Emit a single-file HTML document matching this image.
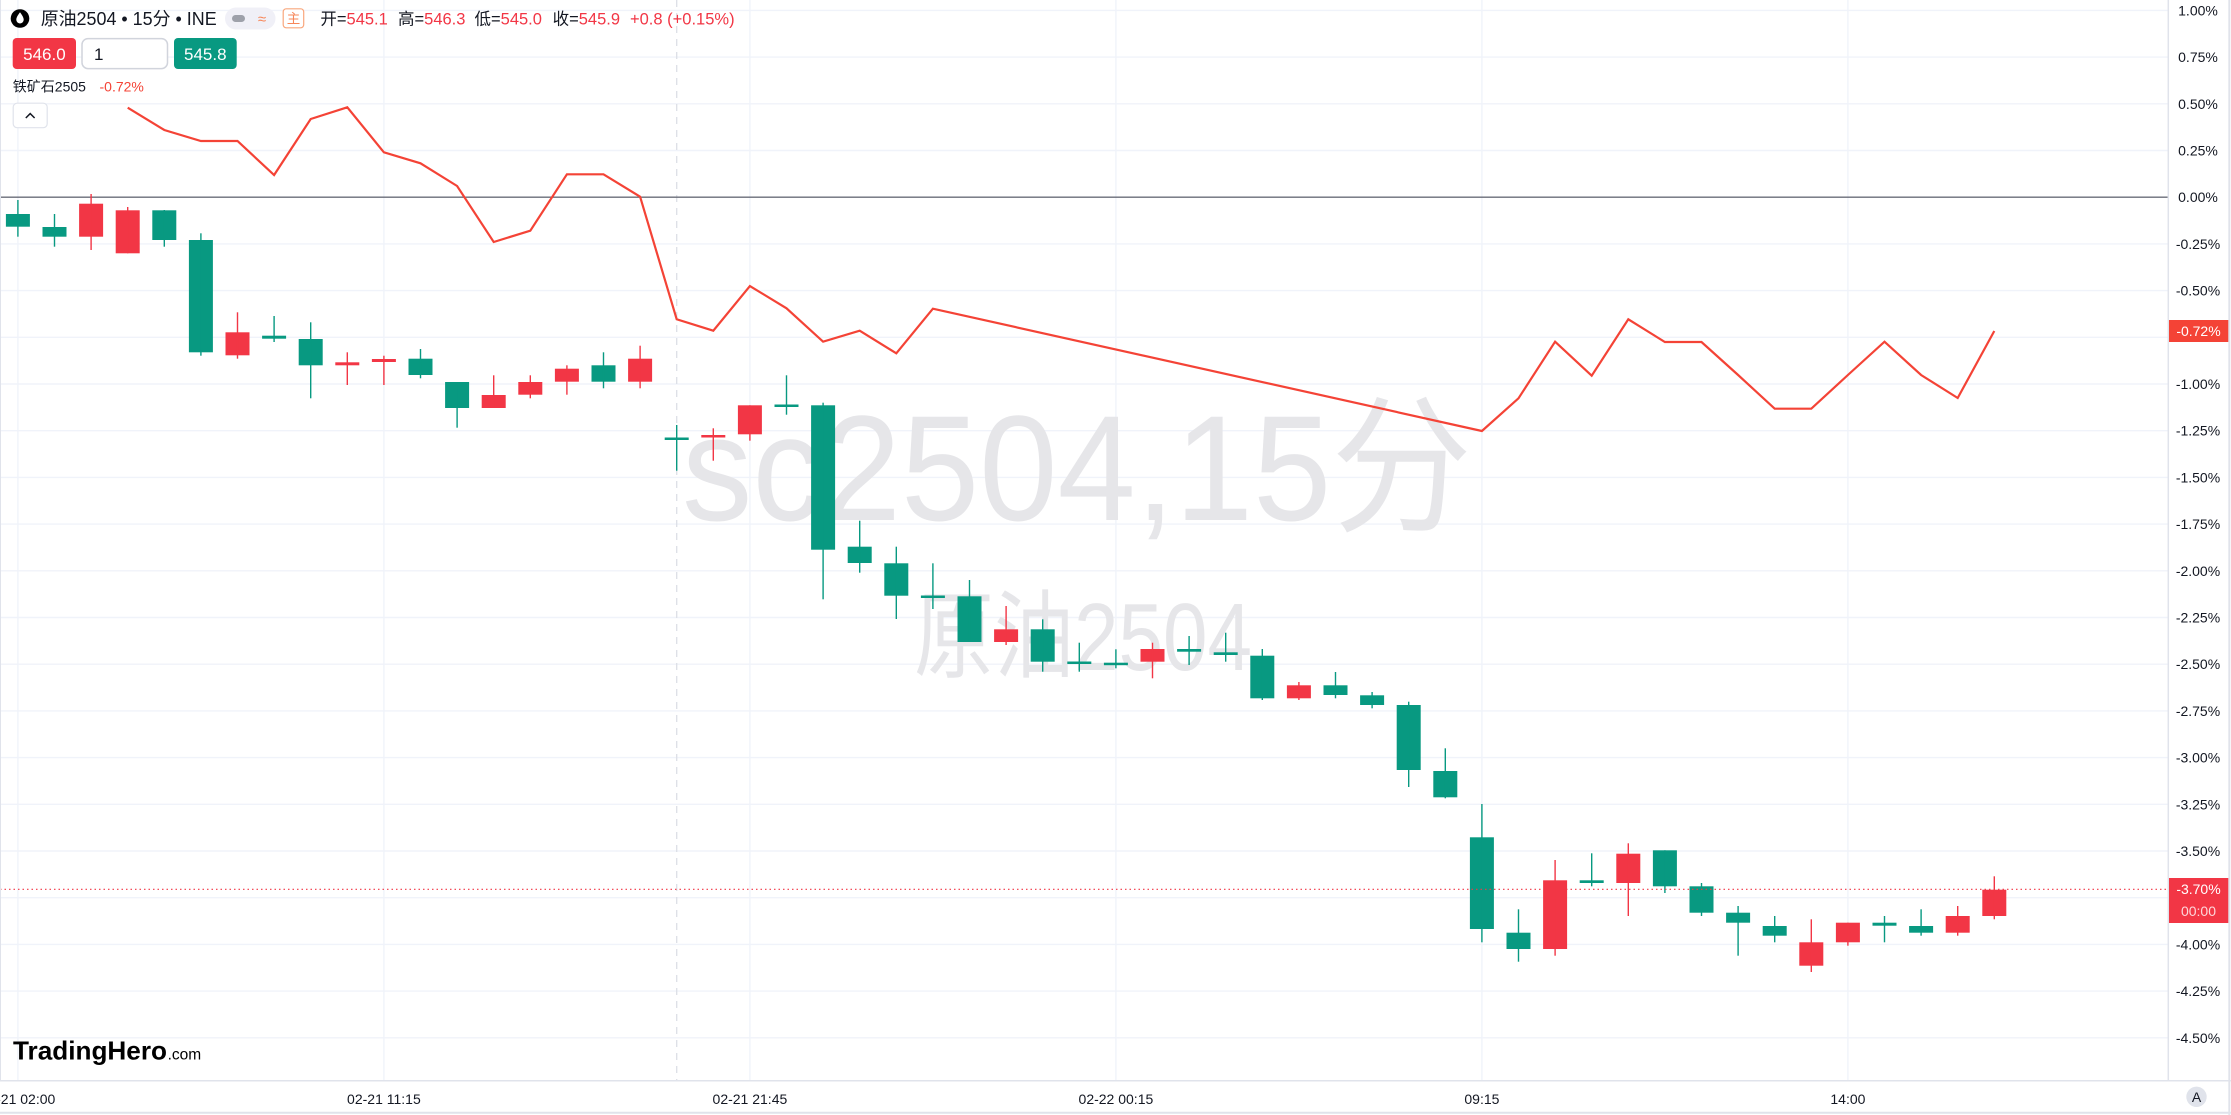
<!DOCTYPE html>
<html>
<head>
<meta charset="utf-8">
<style>
  html,body{margin:0;padding:0;background:#ffffff;}
  body{width:2231px;height:1115px;overflow:hidden;}
  svg{display:block;}
  text{font-family:"Liberation Sans","Noto Sans CJK SC",sans-serif;}
</style>
</head>
<body>
<svg width="2231" height="1115" viewBox="0 0 2231 1115" xmlns="http://www.w3.org/2000/svg">
  <defs>
    <clipPath id="pane"><rect x="0" y="0" width="2168" height="1080"/></clipPath>
  </defs>
  <rect x="0" y="0" width="2231" height="1115" fill="#ffffff"/>

  <g clip-path="url(#pane)">
    <!-- horizontal grid -->
    <g stroke="#f0f3fa" stroke-width="1.4">
      <line x1="0" x2="2168" y1="10.4" y2="10.4"/>
      <line x1="0" x2="2168" y1="57.1" y2="57.1"/>
      <line x1="0" x2="2168" y1="103.8" y2="103.8"/>
      <line x1="0" x2="2168" y1="150.5" y2="150.5"/>
      <line x1="0" x2="2168" y1="243.9" y2="243.9"/>
      <line x1="0" x2="2168" y1="290.6" y2="290.6"/>
      <line x1="0" x2="2168" y1="337.3" y2="337.3"/>
      <line x1="0" x2="2168" y1="384" y2="384"/>
      <line x1="0" x2="2168" y1="430.7" y2="430.7"/>
      <line x1="0" x2="2168" y1="477.4" y2="477.4"/>
      <line x1="0" x2="2168" y1="524.1" y2="524.1"/>
      <line x1="0" x2="2168" y1="570.8" y2="570.8"/>
      <line x1="0" x2="2168" y1="617.5" y2="617.5"/>
      <line x1="0" x2="2168" y1="664.2" y2="664.2"/>
      <line x1="0" x2="2168" y1="710.9" y2="710.9"/>
      <line x1="0" x2="2168" y1="757.6" y2="757.6"/>
      <line x1="0" x2="2168" y1="804.3" y2="804.3"/>
      <line x1="0" x2="2168" y1="851" y2="851"/>
      <line x1="0" x2="2168" y1="897.7" y2="897.7"/>
      <line x1="0" x2="2168" y1="944.4" y2="944.4"/>
      <line x1="0" x2="2168" y1="991.1" y2="991.1"/>
      <line x1="0" x2="2168" y1="1037.8" y2="1037.8"/>
    </g>
    <!-- vertical grid -->
    <g stroke="#f0f3fa" stroke-width="1.4">
      <line x1="17.9" x2="17.9" y1="0" y2="1080"/>
      <line x1="383.9" x2="383.9" y1="0" y2="1080"/>
      <line x1="749.9" x2="749.9" y1="0" y2="1080"/>
      <line x1="1115.9" x2="1115.9" y1="0" y2="1080"/>
      <line x1="1481.9" x2="1481.9" y1="0" y2="1080"/>
      <line x1="1847.9" x2="1847.9" y1="0" y2="1080"/>
    </g>
    <!-- session break dashed -->
    <line x1="676.7" x2="676.7" y1="0" y2="1080" stroke="#dcdfe6" stroke-width="1.3" stroke-dasharray="7 6"/>

    <!-- watermark -->
    <text x="682" y="520" font-size="150" fill="#e6e6e9" textLength="790" lengthAdjust="spacingAndGlyphs">sc2504,15分</text>
    <text x="914" y="670" font-size="96" fill="#e6e6e9" textLength="338" lengthAdjust="spacingAndGlyphs">原油2504</text>

    <!-- zero line -->
    <line x1="0" x2="2168" y1="197.2" y2="197.2" stroke="#6a6d78" stroke-width="1.3"/>

    <!-- green candles -->
    <g fill="#089981">
      <rect x="5.9" y="214" width="24" height="12.7"/><rect x="17.2" y="200" width="1.4" height="36.7"/>
      <rect x="42.5" y="227" width="24" height="9.7"/><rect x="53.8" y="214" width="1.4" height="32.7"/>
      <rect x="152.3" y="210.3" width="24" height="29.7"/><rect x="163.6" y="210" width="1.4" height="36.7"/>
      <rect x="188.9" y="240" width="24" height="112.3"/><rect x="200.2" y="233.3" width="1.4" height="122.4"/>
      <rect x="262.1" y="335.7" width="24" height="3"/><rect x="273.4" y="316" width="1.4" height="26"/>
      <rect x="298.7" y="339" width="24" height="26.3"/><rect x="310" y="322.3" width="1.4" height="76"/>
      <rect x="408.5" y="358.7" width="24" height="16.3"/><rect x="419.8" y="349" width="1.4" height="29.3"/>
      <rect x="445.1" y="382" width="24" height="26"/><rect x="456.4" y="382" width="1.4" height="45.7"/>
      <rect x="591.5" y="365.3" width="24" height="16.4"/><rect x="602.8" y="352.3" width="1.4" height="36"/>
      <rect x="664.7" y="437.5" width="24" height="2.5"/><rect x="676" y="425" width="1.4" height="45.7"/>
      <rect x="774.5" y="404.5" width="24" height="2.5"/><rect x="785.8" y="375.3" width="1.4" height="39.4"/>
      <rect x="811.1" y="405.3" width="24" height="144.4"/><rect x="822.4" y="402.7" width="1.4" height="196.6"/>
      <rect x="847.7" y="546.7" width="24" height="16.3"/><rect x="859" y="520.7" width="1.4" height="52"/>
      <rect x="884.3" y="563.3" width="24" height="32.4"/><rect x="895.6" y="546.7" width="1.4" height="72.3"/>
      <rect x="920.9" y="595.5" width="24" height="2.5"/><rect x="932.2" y="563.3" width="1.4" height="45.7"/>
      <rect x="957.5" y="596.3" width="24" height="45.7"/><rect x="968.8" y="580" width="1.4" height="62"/>
      <rect x="1030.7" y="629.3" width="24" height="32.4"/><rect x="1042" y="619.3" width="1.4" height="52.4"/>
      <rect x="1067.3" y="661.5" width="24" height="2.5"/><rect x="1078.6" y="642.7" width="1.4" height="29"/>
      <rect x="1103.9" y="662.7" width="24" height="2.5"/><rect x="1115.2" y="649.3" width="1.4" height="19"/>
      <rect x="1177.1" y="649" width="24" height="2.7"/><rect x="1188.4" y="636" width="1.4" height="29"/>
      <rect x="1213.7" y="652.3" width="24" height="2.7"/><rect x="1225" y="632.7" width="1.4" height="29"/>
      <rect x="1250.3" y="655.7" width="24" height="42.6"/><rect x="1261.6" y="649" width="1.4" height="51"/>
      <rect x="1323.5" y="685.3" width="24" height="9.7"/><rect x="1334.8" y="672" width="1.4" height="26.3"/>
      <rect x="1360.1" y="695.3" width="24" height="9.7"/><rect x="1371.4" y="692" width="1.4" height="16.3"/>
      <rect x="1396.7" y="705" width="24" height="65"/><rect x="1408" y="701.7" width="1.4" height="85.3"/>
      <rect x="1433.3" y="771" width="24" height="26.3"/><rect x="1444.6" y="748.3" width="1.4" height="50"/>
      <rect x="1469.9" y="837.3" width="24" height="91.7"/><rect x="1481.2" y="804" width="1.4" height="138.3"/>
      <rect x="1506.5" y="932.7" width="24" height="16.3"/><rect x="1517.8" y="909.3" width="1.4" height="52.4"/>
      <rect x="1579.7" y="880.3" width="24" height="2.7"/><rect x="1591" y="853.3" width="1.4" height="33"/>
      <rect x="1652.9" y="850.3" width="24" height="36"/><rect x="1664.2" y="850.3" width="1.4" height="42.7"/>
      <rect x="1689.5" y="886.3" width="24" height="26.4"/><rect x="1700.8" y="883" width="1.4" height="33"/>
      <rect x="1726.1" y="912.7" width="24" height="10"/><rect x="1737.4" y="906" width="1.4" height="49.7"/>
      <rect x="1762.7" y="926" width="24" height="9.7"/><rect x="1774" y="916" width="1.4" height="26.3"/>
      <rect x="1872.5" y="922.7" width="24" height="3"/><rect x="1883.8" y="916" width="1.4" height="26.3"/>
      <rect x="1909.1" y="926" width="24" height="6.7"/><rect x="1920.4" y="909.3" width="1.4" height="26.4"/>
    </g>
    <!-- red candles -->
    <g fill="#f23645">
      <rect x="79.1" y="203.7" width="24" height="33"/><rect x="90.4" y="194" width="1.4" height="56"/>
      <rect x="115.7" y="210.3" width="24" height="43"/><rect x="127" y="207" width="1.4" height="46.3"/>
      <rect x="225.5" y="332.3" width="24" height="23"/><rect x="236.8" y="312.3" width="1.4" height="46.4"/>
      <rect x="335.3" y="362.3" width="24" height="3"/><rect x="346.6" y="352.3" width="1.4" height="32.7"/>
      <rect x="371.9" y="359" width="24" height="3"/><rect x="383.2" y="355.7" width="1.4" height="29.3"/>
      <rect x="481.7" y="395" width="24" height="13"/><rect x="493" y="375.3" width="1.4" height="32.7"/>
      <rect x="518.3" y="382" width="24" height="12.7"/><rect x="529.6" y="375.3" width="1.4" height="23"/>
      <rect x="554.9" y="368.7" width="24" height="13"/><rect x="566.2" y="365.3" width="1.4" height="29.4"/>
      <rect x="628.1" y="358.7" width="24" height="23"/><rect x="639.4" y="345.7" width="1.4" height="42.6"/>
      <rect x="701.3" y="435" width="24" height="2.5"/><rect x="712.6" y="428.3" width="1.4" height="32.4"/>
      <rect x="737.9" y="405.3" width="24" height="29"/><rect x="749.2" y="405.3" width="1.4" height="35.4"/>
      <rect x="994.1" y="629.3" width="24" height="12.7"/><rect x="1005.4" y="606" width="1.4" height="39"/>
      <rect x="1140.5" y="649" width="24" height="12.7"/><rect x="1151.8" y="642.7" width="1.4" height="35.6"/>
      <rect x="1286.9" y="685.3" width="24" height="13"/><rect x="1298.2" y="682" width="1.4" height="18"/>
      <rect x="1543.1" y="880.3" width="24" height="68.7"/><rect x="1554.4" y="860" width="1.4" height="95.7"/>
      <rect x="1616.3" y="853.7" width="24" height="29.3"/><rect x="1627.6" y="843.3" width="1.4" height="72.7"/>
      <rect x="1799.3" y="942.3" width="24" height="23.4"/><rect x="1810.6" y="919.3" width="1.4" height="52.7"/>
      <rect x="1835.9" y="922.7" width="24" height="19.6"/><rect x="1847.2" y="922.7" width="1.4" height="23"/>
      <rect x="1945.7" y="916" width="24" height="16.7"/><rect x="1957" y="906" width="1.4" height="29.7"/>
      <rect x="1982.3" y="889.7" width="24" height="26.3"/><rect x="1993.6" y="876.3" width="1.4" height="43"/>
    </g>

    <!-- comparison line (铁矿石2505) -->
    <polyline fill="none" stroke="#f44336" stroke-width="2.2" stroke-linejoin="miter" points="127.7,107.7 164.3,130 200.9,141 237.5,141 274.1,175 310.7,119 347.3,107.3 383.9,152.3 420.5,163.3 457.1,186 493.7,242 530.3,230.7 566.9,174.3 603.5,174.3 640.1,196.7 676.7,319.3 713.3,330.7 749.9,286 786.5,308.3 823.1,341.7 859.7,330.7 896.3,353.3 932.9,308.7 1481.9,431 1518.5,398.3 1555.1,341.7 1591.7,375.7 1628.3,319.3 1664.9,342 1701.5,342 1738.1,375 1774.7,408.7 1811.3,408.7 1847.9,375 1884.5,341.7 1921.1,375 1957.7,398 1994.3,331"/>

    <!-- last price dotted line -->
    <line x1="0" x2="2168" y1="889.3" y2="889.3" stroke="#f23645" stroke-width="1.2" stroke-dasharray="1.5 3"/>
  </g>

  <!-- left border -->
  <line x1="0.5" x2="0.5" y1="0" y2="1080" stroke="#e0e3eb" stroke-width="1"/>

  <!-- header row 1 -->
  <circle cx="20" cy="18.5" r="9.3" fill="#000000"/>
  <path d="M20 12.2 C18 15, 16.3 17.3, 16.3 19.8 A3.7 3.7 0 0 0 23.7 19.8 C23.7 17.3, 22 15, 20 12.2 Z" fill="#ffffff"/>
  <text x="40.7" y="25" font-size="18" fill="#131722" textLength="176" lengthAdjust="spacingAndGlyphs">原油2504 • 15分 • INE</text>
  <rect x="225" y="7.5" width="50.5" height="22" rx="11" fill="#f0f0f7"/>
  <rect x="232" y="15" width="13" height="7" rx="3.5" fill="#9ea1aa"/>
  <text x="262" y="24" font-size="15" fill="#f7875a" text-anchor="middle">≈</text>
  <rect x="283.2" y="8.8" width="20.5" height="19" rx="3" fill="#ffffff" stroke="#f9a77d" stroke-width="1.2"/>
  <text x="293.5" y="23.3" font-size="13.5" fill="#f7875a" text-anchor="middle">主</text>

  <g font-size="16.5">
    <text x="320.4" y="24.5" fill="#131722">开=<tspan fill="#f23645">545.1</tspan></text>
    <text x="398" y="24.5" fill="#131722">高=<tspan fill="#f23645">546.3</tspan></text>
    <text x="474.5" y="24.5" fill="#131722">低=<tspan fill="#f23645">545.0</tspan></text>
    <text x="552.6" y="24.5" fill="#131722">收=<tspan fill="#f23645">545.9</tspan></text>
    <text x="630" y="24.5" fill="#f23645">+0.8 (+0.15%)</text>
  </g>

  <!-- header row 2 -->
  <rect x="12.7" y="38" width="63.3" height="31" rx="4" fill="#f23645"/>
  <text x="44.4" y="59.8" font-size="17" fill="#ffffff" text-anchor="middle">546.0</text>
  <rect x="82" y="38.6" width="85.5" height="30" rx="6" fill="#ffffff" stroke="#d1d4dc" stroke-width="1.5"/>
  <text x="94" y="59.8" font-size="17" fill="#131722">1</text>
  <rect x="174" y="38" width="62.7" height="31" rx="4" fill="#089981"/>
  <text x="205.3" y="59.8" font-size="17" fill="#ffffff" text-anchor="middle">545.8</text>

  <!-- header row 3 -->
  <text x="12.8" y="91.5" font-size="14" fill="#131722">铁矿石2505</text>
  <text x="99.5" y="91.5" font-size="14" fill="#f44336">-0.72%</text>

  <!-- collapse button -->
  <rect x="13.2" y="103.2" width="34" height="24.5" rx="4" fill="#ffffff" stroke="#e0e3eb" stroke-width="1.2"/>
  <polyline points="25.8,118 30.2,113.6 34.6,118" fill="none" stroke="#131722" stroke-width="1.5"/>

  <!-- logo -->
  <text x="13" y="1059.3" font-size="26" font-weight="bold" fill="#000000" textLength="154" lengthAdjust="spacingAndGlyphs">TradingHero</text>
  <text x="167.6" y="1059.3" font-size="15.5" fill="#000000">.com</text>

  <!-- price axis -->
  <line x1="2168.3" x2="2168.3" y1="0" y2="1080.7" stroke="#e0e3eb" stroke-width="1.5"/>
  <g font-size="14" fill="#131722" text-anchor="middle">
    <text x="2198" y="15.4">1.00%</text>
    <text x="2198" y="62.1">0.75%</text>
    <text x="2198" y="108.8">0.50%</text>
    <text x="2198" y="155.5">0.25%</text>
    <text x="2198" y="202.2">0.00%</text>
    <text x="2198" y="248.9">-0.25%</text>
    <text x="2198" y="295.6">-0.50%</text>
    <text x="2198" y="389">-1.00%</text>
    <text x="2198" y="435.7">-1.25%</text>
    <text x="2198" y="482.4">-1.50%</text>
    <text x="2198" y="529.1">-1.75%</text>
    <text x="2198" y="575.8">-2.00%</text>
    <text x="2198" y="622.5">-2.25%</text>
    <text x="2198" y="669.2">-2.50%</text>
    <text x="2198" y="715.9">-2.75%</text>
    <text x="2198" y="762.6">-3.00%</text>
    <text x="2198" y="809.3">-3.25%</text>
    <text x="2198" y="856">-3.50%</text>
    <text x="2198" y="949.4">-4.00%</text>
    <text x="2198" y="996.1">-4.25%</text>
    <text x="2198" y="1042.8">-4.50%</text>
  </g>
  <rect x="2169" y="320" width="59.5" height="22" fill="#f44336"/>
  <text x="2198.5" y="336" font-size="14" fill="#ffffff" text-anchor="middle">-0.72%</text>
  <rect x="2169" y="878" width="59.5" height="45" fill="#f23645"/>
  <text x="2198.5" y="894" font-size="14" fill="#ffffff" text-anchor="middle">-3.70%</text>
  <text x="2198.5" y="916" font-size="14" fill="#ffffff" fill-opacity="0.8" text-anchor="middle">00:00</text>

  <!-- time axis -->
  <line x1="0" x2="2231" y1="1080.7" y2="1080.7" stroke="#e0e3eb" stroke-width="1.5"/>
  <line x1="0" x2="2231" y1="1112.8" y2="1112.8" stroke="#e0e3eb" stroke-width="2"/>
  <g font-size="14" fill="#131722" text-anchor="middle">
    <text x="17.9" y="1104">02-21 02:00</text>
    <text x="383.9" y="1104">02-21 11:15</text>
    <text x="749.9" y="1104">02-21 21:45</text>
    <text x="1115.9" y="1104">02-22 00:15</text>
    <text x="1481.9" y="1104">09:15</text>
    <text x="1847.9" y="1104">14:00</text>
  </g>
  <circle cx="2196.5" cy="1096.8" r="10.2" fill="#e0e3eb"/>
  <text x="2196.5" y="1101.8" font-size="14" fill="#131722" text-anchor="middle">A</text>

  <!-- right border -->
  <line x1="2229.3" x2="2229.3" y1="0" y2="1115" stroke="#e0e3eb" stroke-width="2"/>
</svg>
</body>
</html>
